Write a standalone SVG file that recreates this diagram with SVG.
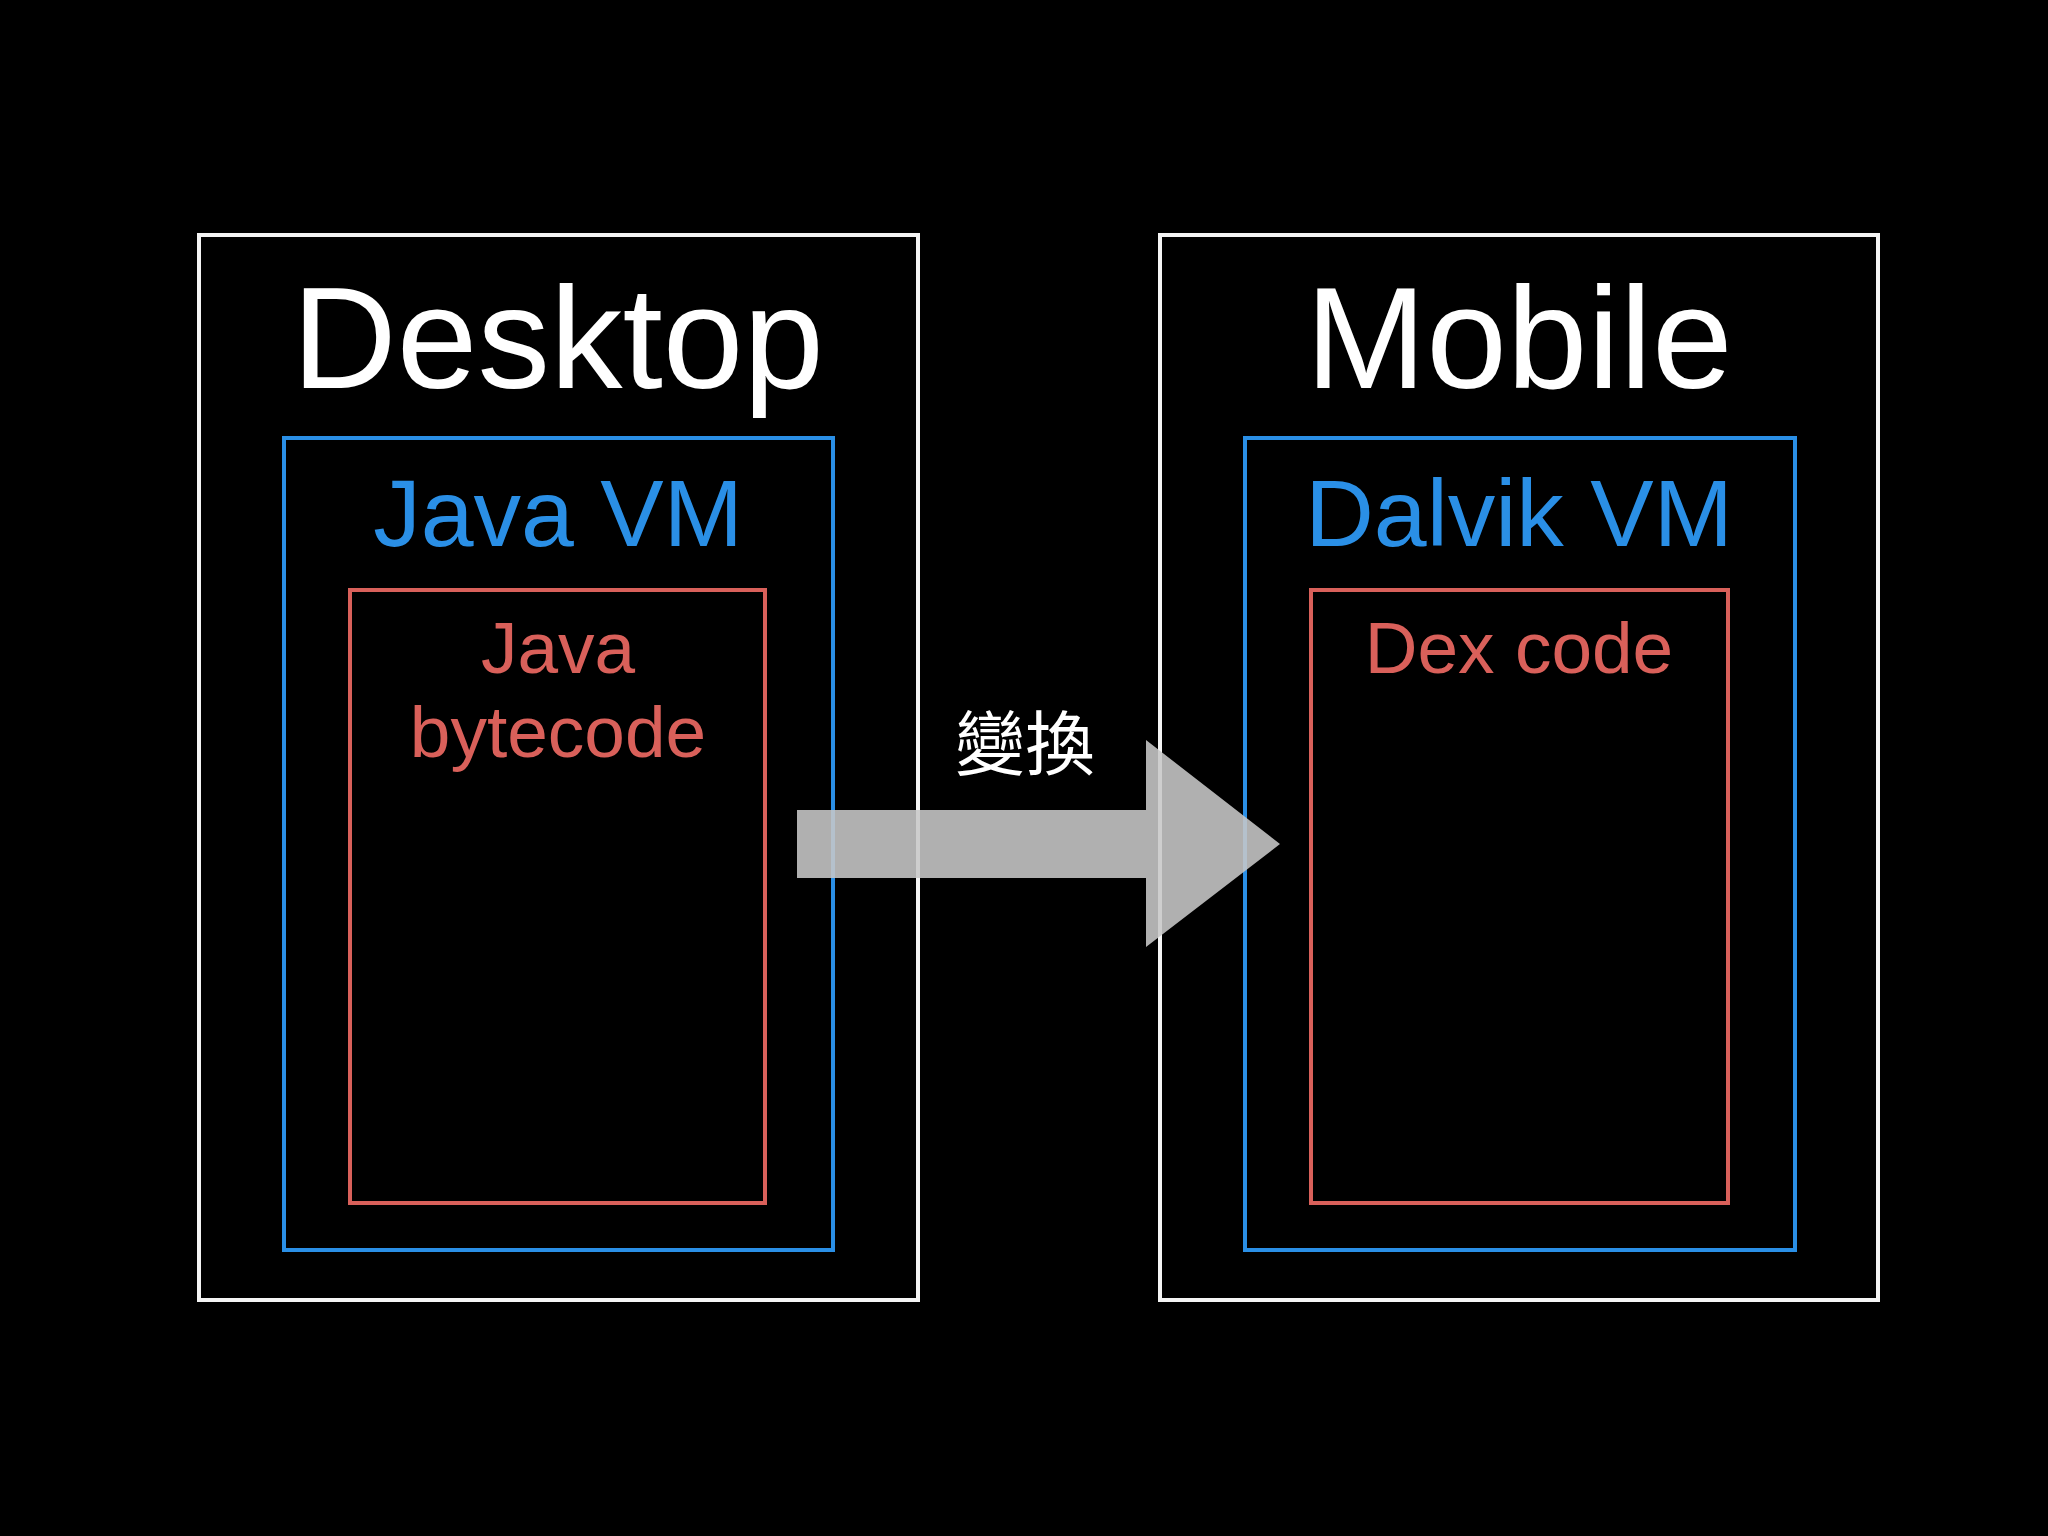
<svg xmlns="http://www.w3.org/2000/svg" width="2048" height="1536" viewBox="0 0 2048 1536">
<style>
.w{fill:none;stroke:#f4f4f4;stroke-width:4}
.b{fill:none;stroke:#2a8fe6;stroke-width:4}
.r{fill:none;stroke:#d9605a;stroke-width:4}
text{font-family:"Helvetica Neue","Liberation Sans",Arial,"Noto Sans CJK TC",sans-serif;text-anchor:middle}
</style>
<rect width="2048" height="1536" fill="#000"/>
<g id="desktop">
<rect class="w" x="199" y="235" width="719" height="1065"/>
<text x="558" y="388" font-size="145" fill="#fff">Desktop</text>
</g>
<g id="javavm">
<rect class="b" x="284" y="438" width="549" height="812"/>
<text x="558" y="546" font-size="95" fill="#2a8fe6">Java VM</text>
</g>
<g id="bytecode">
<rect class="r" x="350" y="590" width="415" height="613"/>
<text x="558" y="673" font-size="73" fill="#d9605a">Java</text>
<text x="558" y="757" font-size="73" fill="#d9605a">bytecode</text>
</g>
<g id="mobile">
<rect class="w" x="1160" y="235" width="718" height="1065"/>
<text x="1519" y="388" font-size="145" fill="#fff">Mobile</text>
</g>
<g id="dalvikvm">
<rect class="b" x="1245" y="438" width="550" height="812"/>
<text x="1519" y="546" font-size="95" fill="#2a8fe6">Dalvik VM</text>
</g>
<g id="dex">
<rect class="r" x="1311" y="590" width="417" height="613"/>
<text x="1519" y="673" font-size="73" fill="#d9605a">Dex code</text>
</g>
<g id="connectors">
<polygon points="797,810 1146,810 1146,740 1280,844 1146,947 1146,878 797,878" fill="#c8c8c8" fill-opacity="0.88"/>
<text x="1025" y="770" font-size="70" fill="#fff">變換</text>
</g>
</svg>
